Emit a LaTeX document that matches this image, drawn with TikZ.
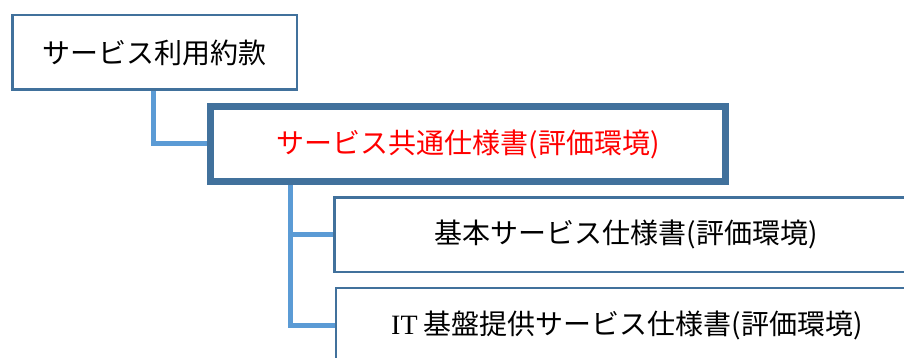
\documentclass[tikz,border=0pt]{standalone}
\usepackage{fontspec}
\usetikzlibrary{backgrounds}
\newfontfamily\jp{Noto Sans CJK JP}
\newfontfamily\lat{Liberation Serif}
\definecolor{boxline}{HTML}{41719C}
\definecolor{conn}{HTML}{5B9BD5}
\definecolor{redtxt}{HTML}{FF0000}
\begin{document}
\begin{tikzpicture}[x=1pt,y=-1pt,
  box/.style={draw=boxline, fill=white, line width=2.5pt, inner sep=0pt,
    minimum height=74.5pt, font=\jp\fontsize{28}{33}\selectfont},
  mainbox/.style={box, line width=7pt, minimum height=75pt, text=redtxt},
  connector/.style={draw=conn, line width=5pt}]
\useasboundingbox (0,0) rectangle (904,358);
\clip (0,0) rectangle (904,358);
% boxes
\node[box, minimum width=284.5pt] (b1) at (154.5,52.5) {サービス利用約款};
\node[mainbox, minimum width=515pt] (b2) at (468,144) {サービス共通仕様書(評価環境)};
\node[box, minimum width=583.5pt] (b3) at (626,234.5) {基本サービス仕様書(評価環境)};
\node[box, minimum width=582pt] (b4) at (627,325) {{\lat IT} 基盤提供サービス仕様書(評価環境)};
% connectors
\coordinate (j) at (290,181.5);
\begin{scope}[on background layer]
\draw[connector] ([xshift=-1pt]b1.south) |- (b2.west);
\draw[connector] (j) |- (b3.west);
\draw[connector] (j) |- (b4.west);
\end{scope}
\end{tikzpicture}
\end{document}
